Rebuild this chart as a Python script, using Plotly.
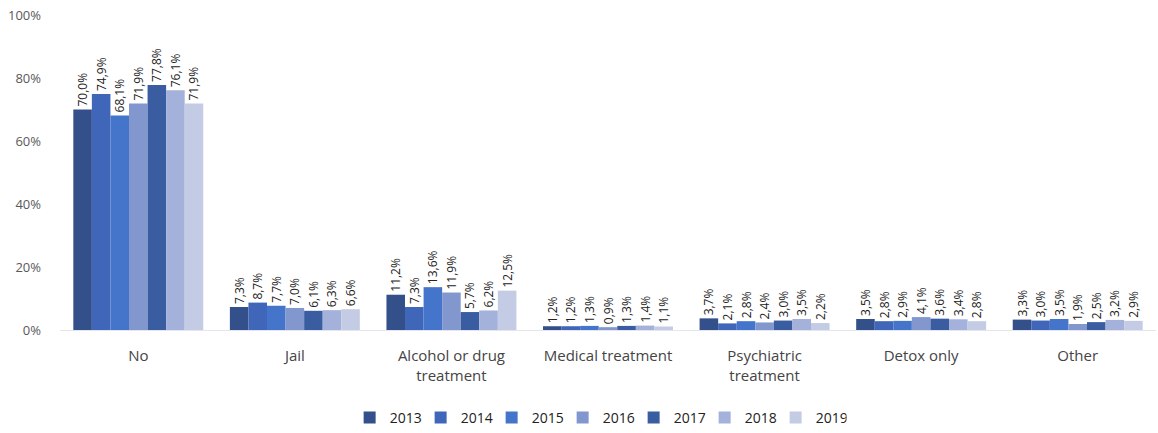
import plotly.graph_objects as go

categories = ["No", "Jail", "Alcohol or drug<br>treatment", "Medical treatment",
              "Psychiatric<br>treatment", "Detox only", "Other"]
years = ["2013", "2014", "2015", "2016", "2017", "2018", "2019"]

v2013 = [70.0, 7.3, 11.2, 1.2, 3.7, 3.5, 3.3]
v2014 = [74.9, 8.7, 7.3, 1.2, 2.1, 2.8, 3.0]
v2015 = [68.1, 7.7, 13.6, 1.3, 2.8, 2.9, 3.5]
v2016 = [71.9, 7.0, 11.9, 0.9, 2.4, 4.1, 1.9]
v2017 = [77.8, 6.1, 5.7, 1.3, 3.0, 3.6, 2.5]
v2018 = [76.1, 6.3, 6.2, 1.4, 3.5, 3.4, 3.2]
v2019 = [71.9, 6.6, 12.5, 1.1, 2.2, 2.8, 2.9]

series = [v2013, v2014, v2015, v2016, v2017, v2018, v2019]
colors = ["#34508a", "#3f66b8", "#4475cb", "#8397cf", "#3a5ca1", "#a4b1db", "#c4cbe5"]

FONT = "Open Sans"

fig = go.Figure()
for year, vals, col in zip(years, series, colors):
    fig.add_trace(go.Bar(
        name=year,
        x=categories,
        y=vals,
        marker=dict(color=col, line=dict(width=0)),
        texttemplate="%{y:.1f}%",
        textposition="outside",
        textangle=-90,
        constraintext="none",
        textfont=dict(family=FONT, size=12, color="#222222"),
        cliponaxis=False,
    ))

fig.update_layout(
    width=1158,
    height=433,
    barmode="group",
    bargap=0.17,
    bargroupgap=0,
    separators=",.",
    plot_bgcolor="white",
    paper_bgcolor="white",
    margin=dict(l=60, r=2, t=15, b=103, autoexpand=False),
    font=dict(family=FONT, color="#444444"),
    legend=dict(
        orientation="h",
        x=0.491, xanchor="center",
        yref="container",
        y=1 - 418 / 433, yanchor="middle",
        font=dict(family=FONT, size=14, color="#222222"),
        itemwidth=30,
        entrywidth=26,
        tracegroupgap=0,
    ),
    xaxis=dict(
        tickfont=dict(family=FONT, size=15, color="#444444"),
        showline=True,
        linecolor="#e3e6ef",
        linewidth=1,
        ticks="",
        ticklabelstandoff=12,
    ),
    yaxis=dict(
        range=[0, 100],
        tickvals=[0, 20, 40, 60, 80, 100],
        ticktext=["0%", "20%", "40%", "60%", "80%", "100%"],
        tickfont=dict(family=FONT, size=13, color="#595959"),
        showgrid=False,
        zeroline=False,
        ticklabelstandoff=18,
    ),
)

fig.write_html("out.html")
